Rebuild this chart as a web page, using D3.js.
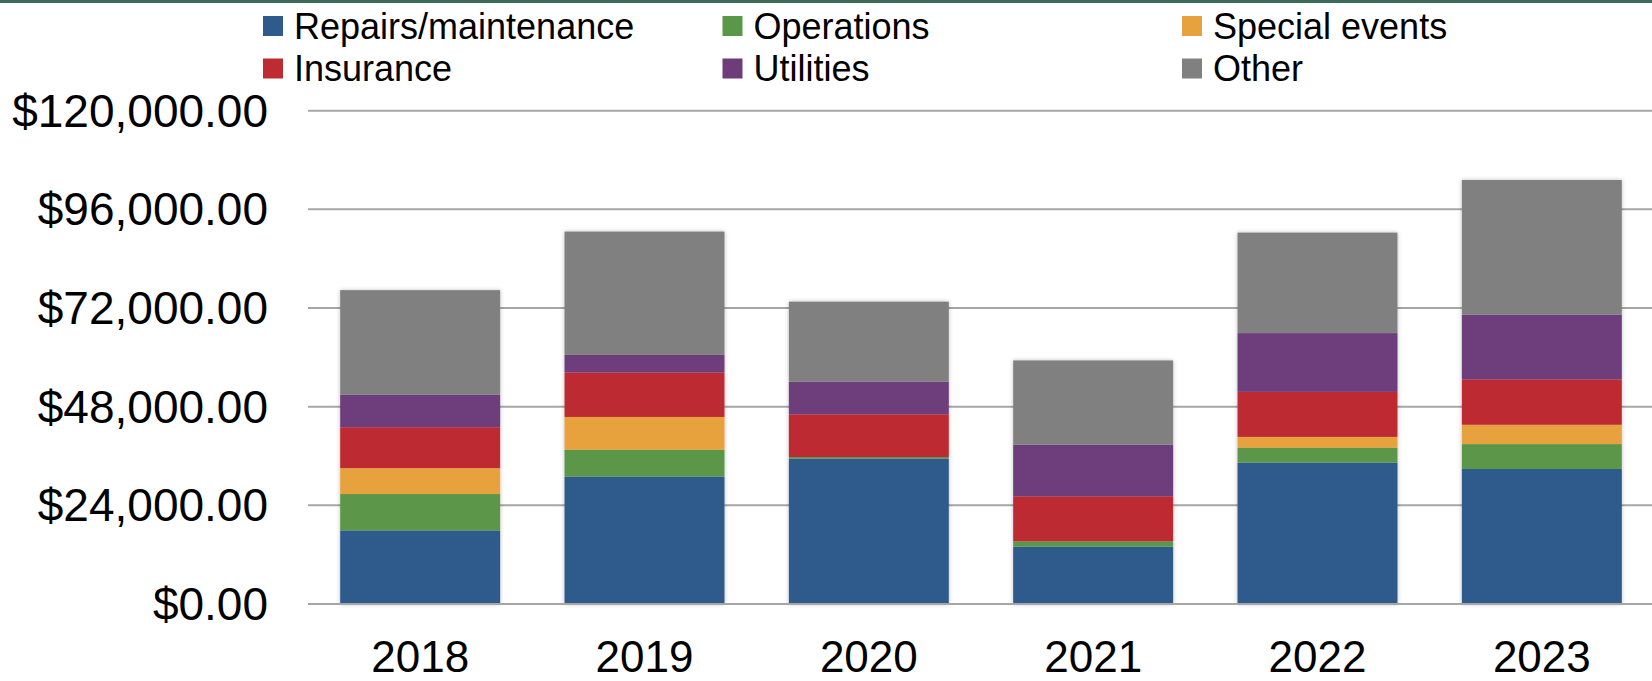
<!DOCTYPE html>
<html>
<head>
<meta charset="utf-8">
<script src="https://cdn.jsdelivr.net/npm/d3@7"></script>
<style>
  body { margin: 0; background: #fff; }
  svg { display: block; font-family: "Liberation Sans", Arial, sans-serif; }
</style>
</head>
<body>
<svg id="chart" width="1652" height="681"></svg>
<script>
const YEARS = ['2018', '2019', '2020', '2021', '2022', '2023'];

const repairs = [17900, 31000, 35350, 13950, 34400, 32850];
const operations = [8850, 6550, 400, 1300, 3650, 6050];
const specialEvents = [6300, 7950, 0, 0, 2600, 4700];
const insurance = [9950, 10800, 10400, 10950, 10950, 11050];
const utilities = [7950, 4300, 7950, 12550, 14300, 15750];
const other = [25400, 30000, 19450, 20500, 24450, 32750];

const SERIES = ['Repairs/maintenance', 'Operations', 'Special events', 'Insurance', 'Utilities', 'Other'];
const Y_TICKS = [0, 24000, 48000, 72000, 96000, 120000];

const colors = ['#2e5a8c', '#5b9749', '#e8a23d', '#bd2c31', '#6e3c7b', '#7f807f'];

const seriesValues = [repairs, operations, specialEvents, insurance, utilities, other];

const WIDTH = 1652, HEIGHT = 681;
const margins = { top: 110.7, right: -2, bottom: 77, left: 308 };

const svg = d3.select('#chart');

// top rule
svg.append('rect')
    .attr('x', 0).attr('y', 0)
    .attr('width', WIDTH).attr('height', 3)
    .attr('fill', '#3c6b59');

const defs = svg.append('defs');
defs.append('filter')
    .attr('id', 'shadow')
    .attr('x', '-10%').attr('width', '120%')
    .append('feDropShadow')
    .attr('dx', 0).attr('dy', 0)
    .attr('stdDeviation', 2)
    .attr('flood-color', '#000')
    .attr('flood-opacity', 0.25);

var rows = YEARS.map((y, i) => {
    var r = { year: y };
    SERIES.forEach((s, j) => r[s] = seriesValues[j][i]);
    return r;
});

var stacked = d3.stack().keys(SERIES)(rows);

var x = d3.scaleBand()
    .domain(YEARS)
    .range([margins.left, WIDTH - margins.right])
    .paddingInner(0.287)
    .paddingOuter(0.1435);

var y = d3.scaleLinear()
    .domain([0, 120000])
    .range([HEIGHT - margins.bottom, margins.top]);

var color = d3.scaleOrdinal().domain(SERIES).range(colors);

// gridlines
svg.append('g')
    .selectAll('line')
    .data(Y_TICKS)
    .enter()
    .append('line')
    .attr('x1', margins.left)
    .attr('x2', WIDTH)
    .attr('y1', d => y(d))
    .attr('y2', d => y(d))
    .attr('stroke', '#a6a6a6')
    .attr('stroke-width', 2);

// y labels
svg.append('g')
    .selectAll('text')
    .data(Y_TICKS)
    .enter()
    .append('text')
    .attr('x', 268)
    .attr('y', d => y(d))
    .attr('dy', '0.35em')
    .attr('text-anchor', 'end')
    .attr('font-size', 46)
    .attr('fill', '#000')
    .text(d => '$' + d3.format(',.2f')(d));

// bars
var bars = svg.append('g').attr('filter', 'url(#shadow)');
bars.selectAll('g')
    .data(stacked)
    .enter()
    .append('g')
    .attr('fill', d => color(d.key))
    .selectAll('rect')
    .data(d => d)
    .enter()
    .append('rect')
    .attr('x', d => x(d.data.year))
    .attr('width', x.bandwidth())
    .attr('y', d => y(d[1]))
    .attr('height', d => y(d[0]) - y(d[1]));

// baseline
svg.append('line')
    .attr('x1', margins.left).attr('x2', WIDTH)
    .attr('y1', y(0)).attr('y2', y(0))
    .attr('stroke', '#a6a6a6')
    .attr('stroke-width', 2);

// x labels
svg.append('g')
    .selectAll('text')
    .data(YEARS)
    .enter()
    .append('text')
    .attr('x', d => x(d) + x.bandwidth() / 2)
    .attr('y', y(0) + 68)
    .attr('text-anchor', 'middle')
    .attr('font-size', 44)
    .attr('fill', '#000')
    .text(d => d);

// legend
var legend = svg.append('g')
    .selectAll('g')
    .data(SERIES)
    .enter()
    .append('g')
    .attr('transform', (d, i) => 'translate(' + (263 + (i % 3) * 459.5) + ',' + (16 + Math.floor(i / 3) * 42.5) + ')');

legend.append('rect')
    .attr('width', 20).attr('height', 20)
    .attr('fill', d => color(d));

legend.append('text')
    .attr('x', 31)
    .attr('y', 22.5)
    .attr('font-size', 36)
    .attr('fill', '#000')
    .text(d => d);
</script>
</body>
</html>
